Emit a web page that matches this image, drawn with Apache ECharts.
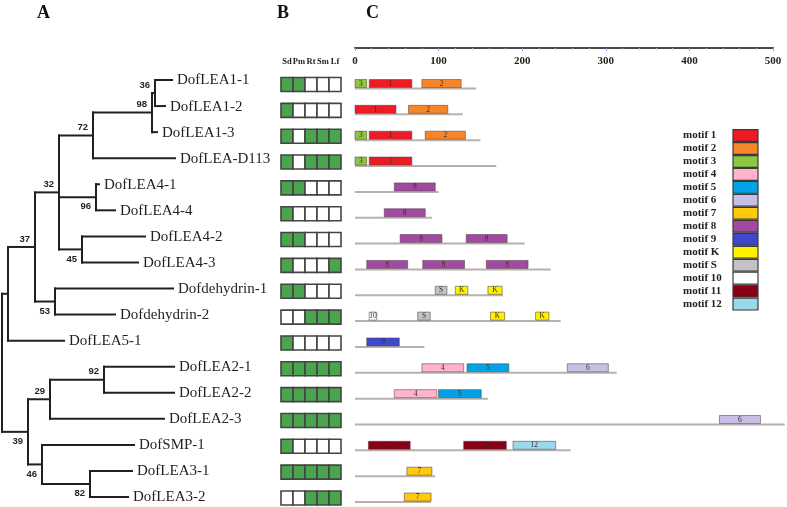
<!DOCTYPE html>
<html><head><meta charset="utf-8">
<script src="https://cdn.jsdelivr.net/npm/echarts@6/dist/echarts.min.js"></script>
<style>html,body{margin:0;padding:0;background:#fff}#c{width:787px;height:507px}</style>
</head><body><div id="c"></div>
<script>
// ---------------- DATA ----------------
const genes = ['DofLEA1-1','DofLEA1-2','DofLEA1-3','DofLEA-D113','DofLEA4-1','DofLEA4-4','DofLEA4-2','DofLEA4-3',
  'Dofdehydrin-1','Dofdehydrin-2','DofLEA5-1','DofLEA2-1','DofLEA2-2','DofLEA2-3','DofSMP-1','DofLEA3-1','DofLEA3-2'];

// tree: internal nodes (branch depth from root, bootstrap support)
const treeNodes   = ['root','nA','n37','n32','n72','n98','n36','n96','n45','n53','n39','n29','n92','n46','n82'];
const treeParents = [null,'root','nA','n37','n32','n72','n98','n32','n32','n37','root','n39','n29','n39','n46'];
const treeDepths  = [0,6,33,57,91,150,153,94,80,53,26,48,102,40,88];
const treeSupport = [null,null,37,32,72,98,36,96,45,53,39,29,92,46,82];
const treeSupportSide = [null,null,'above','above','above','above','above','below','below','below','below','above','above','below','below'];
// tips
const geneParents = ['n36','n36','n98','n72','n96','n96','n45','n45','n53','n53','nA','n92','n92','n29','n46','n82','n82'];
const geneDepths  = [170,163,155,173,97,113,143,136,171,113,62,172,172,162,132,130,126];

// expression (Sd, Pm, Rt, Sm, Lf)
const tissues = ['Sd','Pm','Rt','Sm','Lf'];
const expression = [
  [1,1,0,0,0],[1,0,0,0,0],[1,0,1,1,1],[1,0,1,1,1],[1,1,0,0,0],[1,0,0,0,0],[1,1,0,0,0],[1,0,0,0,1],
  [1,1,0,0,0],[0,0,1,1,1],[1,0,0,0,0],[1,1,1,1,1],[1,1,1,1,1],[1,1,1,1,1],[1,0,0,0,0],[1,1,1,1,1],[0,0,1,1,1]
];

// motifs
const proteinLengths = [145,129,150,169,100,92,203,234,177,246,83,313,159,514,258,96,91];
const motifNames  = ['1','2','3','4','5','6','7','8','9','K','S','10','11','12'];
const motifColors = ['#ED1C24','#F7862A','#8DC63F','#FFB3CC','#00A2E8','#C8BFE7','#FFC90E','#A349A4','#3F48CC','#FFF200','#C3C3C3','#FFFFFF','#880015','#99D9EA'];
// [gene index, motif, start, end]
const motifHits = [
  [0,'3',0,14],[0,'1',17,68],[0,'2',80,127],
  [1,'1',0,49],[1,'2',64,111],
  [2,'3',0,14],[2,'1',17,68],[2,'2',84,132],
  [3,'3',0,14],[3,'1',17,68],
  [4,'8',47,96],
  [5,'8',35,84],
  [6,'8',54,104],[6,'8',133,182],
  [7,'8',14,63],[7,'8',81,131],[7,'8',157,207],
  [8,'S',96,110],[8,'K',120,135],[8,'K',159,176],
  [9,'10',17,26],[9,'S',75,90],[9,'K',162,179],[9,'K',216,232],
  [10,'9',14,53],
  [11,'4',80,130],[11,'5',134,184],[11,'6',254,303],
  [12,'4',47,98],[12,'5',100,151],
  [13,'6',436,485],
  [14,'11',16,66],[14,'11',130,181],[14,'12',189,240],
  [15,'7',62,92],
  [16,'7',59,91]
];
const axisMax = 500, axisStep = 100;

// ---------------- LAYOUT ----------------
const N = genes.length;
function rowScale(top, height, y0, yLast) {
  const k = (yLast - y0) / (N - 1);
  const min = -(y0 - top) / k;
  return {min: min, max: min + height / k};
}
const treeRows = rowScale(0, 507, 80, 497);
const exprRows = rowScale(70, 437, 84.5, 498);
const motifRows = rowScale(48, 459, 88.5, 502);

// tree geometry
const children = {};
treeNodes.forEach(n => children[n] = []);
treeParents.forEach((p, i) => { if (p) children[p].push({id: treeNodes[i], tip: false}); });
geneParents.forEach((p, i) => children[p].push({id: i, tip: true}));
const nodeDepth = {}; treeNodes.forEach((n, i) => nodeDepth[n] = treeDepths[i]);
const nodeY = {};
function yOf(c) {
  if (c.tip) return c.id;
  if (nodeY[c.id] !== undefined) return nodeY[c.id];
  const ys = children[c.id].map(yOf);
  nodeY[c.id] = (Math.min(...ys) + Math.max(...ys)) / 2;
  return nodeY[c.id];
}
yOf({id: 'root', tip: false});
const segments = [];
treeNodes.forEach(n => {
  const x = nodeDepth[n];
  const ys = children[n].map(yOf);
  segments.push([x, Math.min(...ys), x, Math.max(...ys)]);
  children[n].forEach(c => {
    const cx = c.tip ? geneDepths[c.id] : nodeDepth[c.id];
    segments.push([x, yOf(c), cx, yOf(c)]);
  });
});
const tipData = genes.map((g, i) => [geneDepths[i], i]);
const supportData = [];
treeNodes.forEach((n, i) => { if (treeSupport[i] != null) supportData.push({value: [nodeDepth[n], nodeY[n]], label: String(treeSupport[i]), side: treeSupportSide[i]}); });

const exprData = [];
expression.forEach((r, i) => r.forEach((v, j) => exprData.push([j, i, v])));

const INK = '#231f20';
const series = [];
series.push({
  type: 'custom', name: 'branches', xAxisIndex: 0, yAxisIndex: 0, data: segments, silent: true,
  renderItem: (p, api) => {
    const a = api.coord([api.value(0), api.value(1)]), b = api.coord([api.value(2), api.value(3)]);
    return {type: 'line', shape: {x1: a[0], y1: a[1], x2: b[0], y2: b[1]}, style: {stroke: INK, lineWidth: 2, lineCap: 'square'}};
  }
});
series.push({
  type: 'custom', name: 'tips', xAxisIndex: 0, yAxisIndex: 0, data: tipData, silent: true,
  renderItem: (p, api) => {
    const a = api.coord([api.value(0), api.value(1)]);
    return {type: 'text', style: {text: genes[p.dataIndex], x: a[0] + 5, y: a[1] + 0.5, align: 'left', verticalAlign: 'middle',
      font: '15px "Liberation Serif"', fill: INK}};
  }
});
series.push({
  type: 'custom', name: 'support', xAxisIndex: 0, yAxisIndex: 0, data: supportData, silent: true,
  renderItem: (p, api) => {
    const a = api.coord([api.value(0), api.value(1)]);
    const d = supportData[p.dataIndex];
    return {type: 'text', style: {text: d.label, x: a[0] - 5, y: a[1] + (d.side === 'above' ? -8 : 9.5), align: 'right', verticalAlign: 'middle',
      font: 'bold 9.5px "Liberation Sans"', fill: INK}};
  }
});
series.push({
  type: 'custom', name: 'expression', xAxisIndex: 1, yAxisIndex: 1, data: exprData, silent: true,
  renderItem: (p, api) => {
    const c = api.coord([api.value(0), api.value(1)]);
    const w = api.size([1, 0])[0];
    return {type: 'rect', shape: {x: c[0] - w / 2, y: c[1] - 7, width: w, height: 14},
      style: {fill: api.value(2) ? '#4BA54E' : '#ffffff', stroke: '#444444', lineWidth: 1.6}};
  }
});
series.push({
  type: 'custom', name: 'backbone', xAxisIndex: 2, yAxisIndex: 2, data: proteinLengths.map((l, i) => [l, i]), silent: true,
  renderItem: (p, api) => {
    const a = api.coord([0, api.value(1)]), b = api.coord([api.value(0), api.value(1)]);
    return {type: 'line', shape: {x1: a[0], y1: a[1], x2: b[0], y2: b[1]}, style: {stroke: '#b9b0ae', lineWidth: 2}};
  }
});
motifNames.forEach((m, mi) => {
  const hits = motifHits.filter(h => h[1] === m).map(h => [h[0], h[2], h[3]]);
  series.push({
    type: 'custom', name: 'motif ' + m, xAxisIndex: 2, yAxisIndex: 2, data: hits, silent: true,
    itemStyle: {color: motifColors[mi]},
    renderItem: (p, api) => {
      const s = api.coord([api.value(1), api.value(0)]), e = api.coord([api.value(2), api.value(0)]);
      return {type: 'group', children: [
        {type: 'rect', shape: {x: s[0], y: s[1] - 9, width: e[0] - s[0], height: 8},
          style: {fill: api.visual('color'), stroke: 'rgba(80,70,70,0.55)', lineWidth: 1}},
        {type: 'text', style: {text: m, x: (s[0] + e[0]) / 2, y: s[1] - 4.8, align: 'center', verticalAlign: 'middle',
          font: '7.5px "Liberation Serif"', fill: '#3b2b2b'}}
      ]};
    }
  });
});

const hidden = {show: false};
const option = {
  animation: false,
  backgroundColor: '#fff',
  grid: [
    {left: 2, top: 0, width: 200, height: 507},
    {left: 281, top: 70, width: 60, height: 437},
    {left: 355, top: 48, width: 418, height: 459}
  ],
  xAxis: [
    {gridIndex: 0, type: 'value', min: 0, max: 200, show: false},
    {gridIndex: 1, type: 'category', data: tissues, position: 'top',
      axisLine: hidden, axisTick: hidden, splitLine: hidden,
      axisLabel: {interval: 0, margin: 4, color: '#222', fontFamily: 'Liberation Serif', fontWeight: 'bold', fontSize: 8.5}},
    {gridIndex: 2, type: 'value', min: 0, max: axisMax, interval: axisStep, position: 'top',
      axisLine: {show: true, onZero: false, lineStyle: {color: '#4a4a4a', width: 2}},
      axisTick: {show: true, inside: true, length: 3, lineStyle: {color: '#9a9ad6', width: 1}},
      minorTick: {show: true, splitNumber: 5, length: 2, lineStyle: {color: '#c0c0e0', width: 1}},
      splitLine: hidden, minorSplitLine: hidden,
      axisLabel: {inside: true, margin: 8, color: '#222', fontFamily: 'Liberation Serif', fontWeight: 'bold', fontSize: 11}}
  ],
  yAxis: [
    {gridIndex: 0, type: 'value', inverse: true, min: treeRows.min, max: treeRows.max, show: false},
    {gridIndex: 1, type: 'value', inverse: true, min: exprRows.min, max: exprRows.max, show: false},
    {gridIndex: 2, type: 'value', inverse: true, min: motifRows.min, max: motifRows.max, show: false}
  ],
  legend: {
    data: motifNames.map(m => 'motif ' + m), orient: 'vertical', left: 683, top: 129, padding: 0,
    align: 'right', itemWidth: 25, itemHeight: 11.77, itemGap: 0, icon: 'rect', selectedMode: false,
    itemStyle: {borderColor: '#3a3a3a', borderWidth: 1.2},
    formatter: name => '{t|' + name + '}',
    textStyle: {color: '#222', lineHeight: 11,
      rich: {t: {width: 45, align: 'left', fontFamily: 'Liberation Serif', fontWeight: 'bold', fontSize: 11, color: '#222', lineHeight: 11}}}
  },
  graphic: [
    {type: 'text', left: 37, top: 4, style: {text: 'A', font: 'bold 18px "Liberation Serif"', fill: '#111'}},
    {type: 'text', left: 277, top: 4, style: {text: 'B', font: 'bold 18px "Liberation Serif"', fill: '#111'}},
    {type: 'text', left: 366, top: 4, style: {text: 'C', font: 'bold 18px "Liberation Serif"', fill: '#111'}}
  ],
  series: series
};
const chart = echarts.init(document.getElementById('c'), null, {renderer: 'canvas'});
chart.setOption(option);
</script></body></html>
